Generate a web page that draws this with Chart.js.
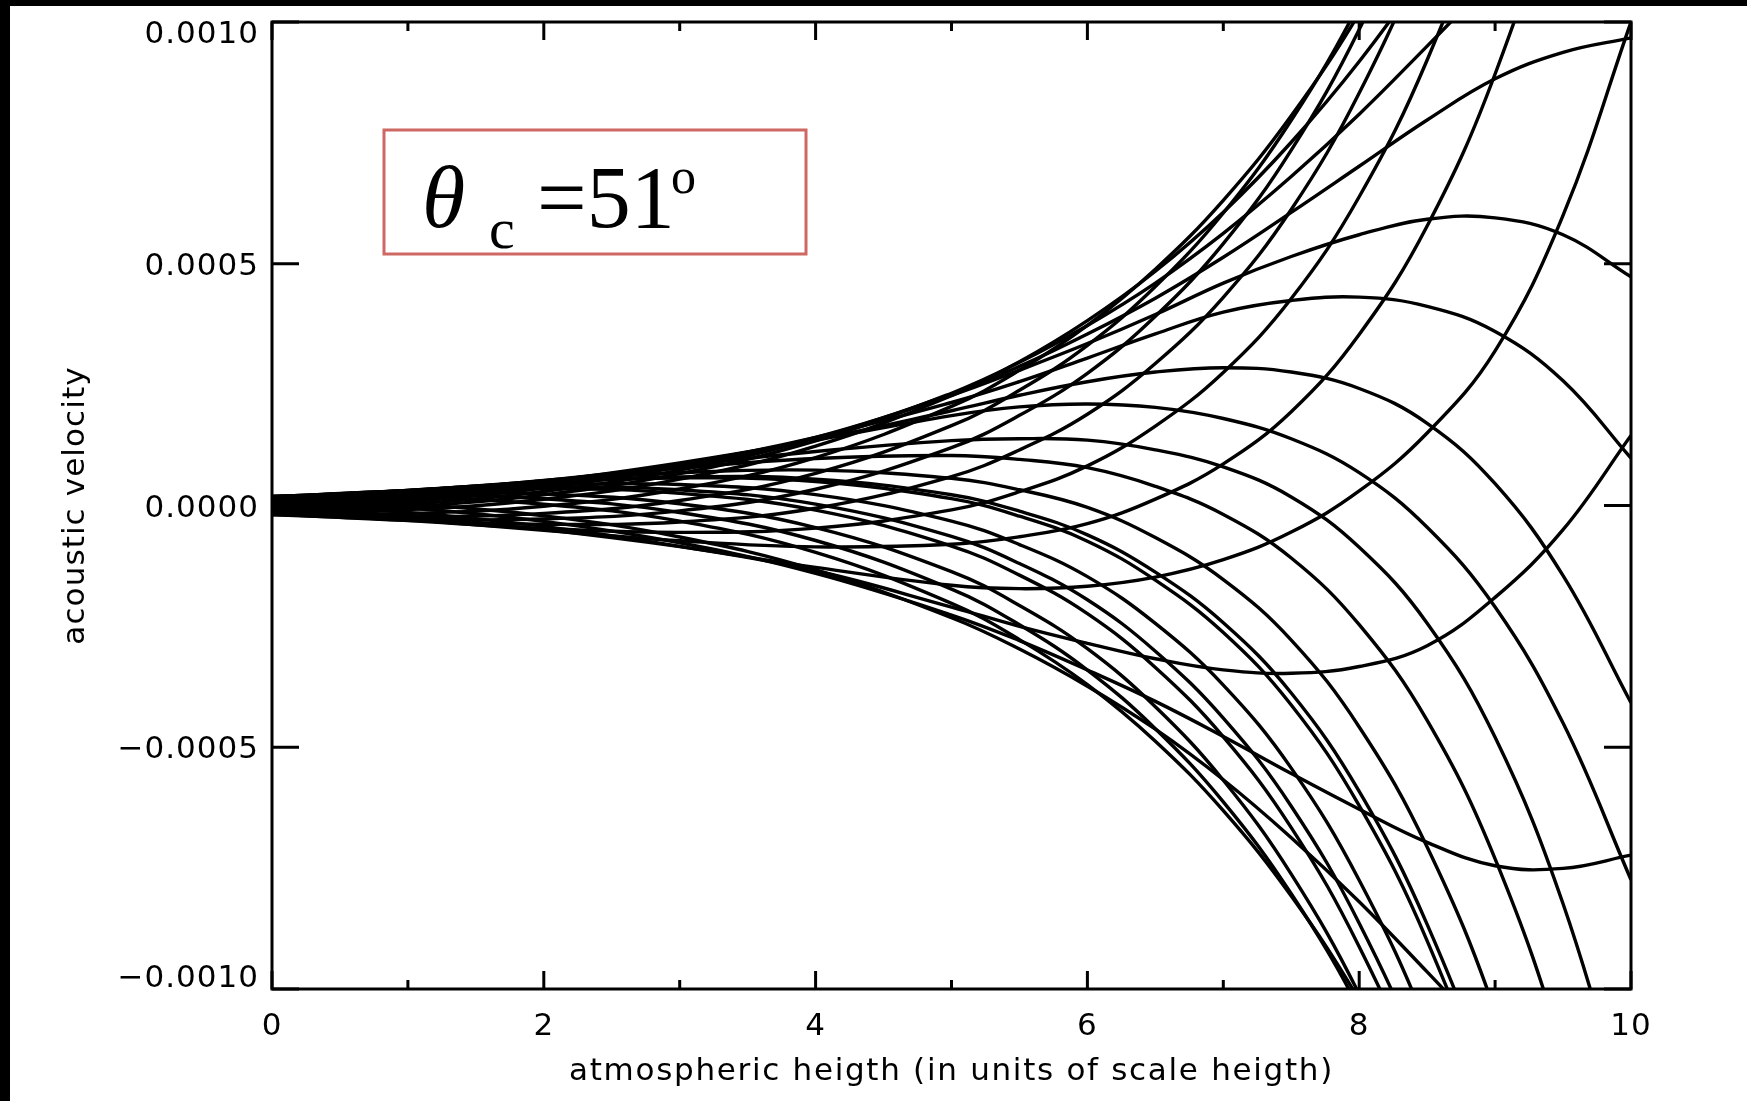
<!DOCTYPE html>
<html>
<head>
<meta charset="utf-8">
<script src="https://cdn.jsdelivr.net/npm/chart.js@4.4.1/dist/chart.umd.min.js"></script>
<style>
  html, body { margin: 0; padding: 0; background: #000; overflow: hidden; }
  #wrap { position: absolute; left: 10px; top: 6px; width: 1737px; height: 1095px; background: #fff; }
</style>
</head>
<body>
<div id="wrap"><canvas id="myChart" width="1737" height="1095"></canvas></div>
<script>
// heights where the profiles are sampled (units of scale height)
const heights = [0, 1, 2, 3, 4, 5, 5.5, 6, 6.5, 7, 7.5, 8, 8.5, 9, 9.5, 10];

// acoustic velocity snapshots, tabulated in units of 1e-3
const profile01 = [-0.0104, -0.0288, -0.0515, -0.0729, -0.0856, -0.0802, -0.0646, -0.0376, 0.0131, 0.0860, 0.1940, 0.3538, 0.5780, 0.8925, 1.3271, 1.901];
const profile02 = [-0.0148, -0.0313, -0.0473, -0.0556, -0.0468, -0.0092, 0.0285, 0.0819, 0.1643, 0.2753, 0.4280, 0.6386, 0.9214, 1.3016, 1.8056, 2.455];
const profile03 = [-0.0177, -0.0308, -0.0389, -0.0340, -0.0056, 0.0599, 0.1149, 0.1887, 0.2936, 0.4307, 0.6122, 0.8530, 1.1663, 1.5737, 2.0981, 2.761];
const profile04 = [-0.0190, -0.0279, -0.0280, -0.0110, 0.0336, 0.1195, 0.1865, 0.2735, 0.3914, 0.5415, 0.7351, 0.9846, 1.3013, 1.7016, 2.202, 2.824];
const profile05 = [-0.0188, -0.0234, -0.0163, 0.0103, 0.0664, 0.1651, 0.2383, 0.3313, 0.4528, 0.6049, 0.7967, 1.0375, 1.3361, 1.7036, 2.150, 2.694];
const profile06 = [-0.0172, -0.0164, -0.0015, 0.0341, 0.0992, 0.2049, 0.2796, 0.3724, 0.4887, 0.6313, 0.8061, 1.0179, 1.2727, 1.5737, 1.9226, 2.335];
const profile07 = [-0.0143, -0.0084, 0.0129, 0.0544, 0.1230, 0.2271, 0.2974, 0.3825, 0.4845, 0.6067, 0.7513, 0.9183, 1.1104, 1.3234, 1.5505, 1.8026];
const profile08 = [-0.0117, -0.0025, 0.0221, 0.0659, 0.1337, 0.2322, 0.2962, 0.3724, 0.4601, 0.5629, 0.6803, 0.8093, 0.9501, 1.0934, 1.2271, 1.3582];
const profile09 = [-0.0093, 0.0023, 0.0289, 0.0733, 0.1389, 0.2302, 0.2877, 0.3547, 0.4288, 0.5134, 0.6062, 0.7017, 0.7974, 0.8825, 0.9372, 0.9672];
const profile10 = [-0.0061, 0.0079, 0.0362, 0.0800, 0.1410, 0.2280, 0.2800, 0.3350, 0.3950, 0.4600, 0.5150, 0.5600, 0.5920, 0.5950, 0.5600, 0.4730];
const profile11 = [-0.0037, 0.0119, 0.0410, 0.0840, 0.1410, 0.2130, 0.2560, 0.3050, 0.3550, 0.4000, 0.4240, 0.4310, 0.4120, 0.3600, 0.2580, 0.0980];
const profile12 = [-0.0003, 0.0169, 0.0460, 0.0860, 0.1360, 0.1960, 0.2280, 0.2560, 0.2760, 0.2850, 0.2760, 0.2420, 0.1700, 0.0450, -0.1450, -0.4080];
const profile13 = [0.0023, 0.0202, 0.0490, 0.0880, 0.1350, 0.1860, 0.2040, 0.2100, 0.2030, 0.1800, 0.1380, 0.0680, -0.0450, -0.2100, -0.4500, -0.7740];
const profile14 = [0.0059, 0.0245, 0.0512, 0.0820, 0.1118, 0.1342, 0.1382, 0.1352, 0.1152, 0.0798, 0.0177, -0.0865, -0.2435, -0.4794, -0.8237, -1.2912];
const profile15 = [0.0087, 0.0273, 0.0518, 0.0773, 0.0972, 0.1033, 0.0953, 0.0782, 0.0397, -0.0184, -0.1085, -0.2465, -0.4446, -0.7308, -1.1312, -1.665];
const profile16 = [0.0121, 0.0300, 0.0506, 0.0677, 0.0731, 0.0563, 0.0326, -0.0039, -0.0663, -0.1532, -0.2783, -0.4580, -0.7062, -1.0462, -1.512, -2.119];
const profile17 = [0.0141, 0.0311, 0.0484, 0.0592, 0.0544, 0.0222, -0.0117, -0.0607, -0.1378, -0.2426, -0.3879, -0.5913, -0.8663, -1.2367, -1.7325, -2.372];
const profile18 = [0.0146, 0.0312, 0.0478, 0.0570, 0.0496, 0.0141, -0.0221, -0.0738, -0.1544, -0.2627, -0.4127, -0.6209, -0.9003, -1.2777, -1.778, -2.424];
const profile19 = [0.0167, 0.0313, 0.0428, 0.0433, 0.0226, -0.0322, -0.0808, -0.1471, -0.2439, -0.3715, -0.5432, -0.7750, -1.0785, -1.4797, -2.0014, -2.665];
const profile20 = [0.0178, 0.0307, 0.0383, 0.0325, 0.0029, -0.0640, -0.1200, -0.1949, -0.3013, -0.4398, -0.6219, -0.8640, -1.1782, -1.5861, -2.110, -2.772];
const profile21 = [0.0184, 0.0299, 0.0350, 0.0253, -0.0097, -0.0838, -0.1440, -0.2238, -0.3349, -0.4785, -0.6662, -0.9126, -1.2302, -1.6385, -2.1585, -2.811];
const profile22 = [0.0191, 0.0265, 0.0240, 0.0035, -0.0456, -0.1367, -0.2067, -0.2962, -0.4162, -0.5682, -0.7625, -1.0106, -1.323, -1.714, -2.199, -2.798];
const profile23 = [0.0187, 0.0223, 0.0139, -0.0144, -0.0724, -0.1729, -0.2467, -0.3403, -0.4616, -0.6130, -0.8031, -1.0403, -1.3332, -1.6916, -2.1239, -2.6494];
const profile24 = [0.0174, 0.0170, 0.0026, -0.0324, -0.0972, -0.2025, -0.2774, -0.3704, -0.4874, -0.6312, -0.8078, -1.0224, -1.2811, -1.588, -1.9457, -2.368];
const profile25 = [0.0119, 0.0030, -0.0214, -0.0651, -0.1331, -0.2321, -0.2967, -0.3737, -0.4627, -0.5672, -0.6871, -0.8194, -0.9646, -1.1137, -1.2559, -1.3967];
const profile26 = [0.0077, -0.0051, -0.0328, -0.0771, -0.1405, -0.2265, -0.2794, -0.3401, -0.4051, -0.4778, -0.5545, -0.6282, -0.6968, -0.7451, -0.7506, -0.7231];
const profile27 = [0.0021, -0.0142, -0.0433, -0.0846, -0.1350, -0.2100, -0.2500, -0.2850, -0.3170, -0.3400, -0.3470, -0.3330, -0.2900, -0.1900, -0.0500, 0.1450];
const profile28 = [-0.0037, -0.0220, -0.0499, -0.0850, -0.1280, -0.1650, -0.1720, -0.1670, -0.1480, -0.1120, -0.0550, 0.0300, 0.1500, 0.3200, 0.6000, 1.0000];

const profiles = [
  profile01, profile02, profile03, profile04, profile05, profile06, profile07,
  profile08, profile09, profile10, profile11, profile12, profile13, profile14,
  profile15, profile16, profile17, profile18, profile19, profile20, profile21,
  profile22, profile23, profile24, profile25, profile26, profile27, profile28
];
const UNIT = 1e-3;

const xTicksMajor = [0, 2, 4, 6, 8, 10];
const xTicksMinor = [1, 3, 5, 7, 9];
const xTickLabels = ['0', '2', '4', '6', '8', '10'];
const yTicks = [-0.001, -0.0005, 0, 0.0005, 0.001];
const yTickLabels = ['\u22120.0010', '\u22120.0005', '0.0000', '0.0005', '0.0010'];

const xTitle = 'atmospheric heigth (in units of scale heigth)';
const yTitle = 'acoustic velocity';

const datasets = profiles.map(p => ({
  data: heights.map((h, i) => ({ x: h, y: p[i] * UNIT })),
  borderColor: '#000',
  borderWidth: 3.4,
  pointRadius: 0,
  fill: false,
  tension: 0.4,
  clip: 0
}));

const axisFont = '31px "DejaVu Sans"';

// IDL-style box with inward ticks, labels and the angle annotation
const framePlugin = {
  id: 'idlFrame',
  afterDatasetsDraw(chart) {
    const ctx = chart.ctx;
    const a = chart.chartArea;
    const xs = chart.scales.x, ys = chart.scales.y;
    ctx.save();
    ctx.strokeStyle = '#000';
    ctx.lineWidth = 3;
    ctx.strokeRect(a.left, a.top, a.right - a.left, a.bottom - a.top);

    const majX = 18, minX = 9, majY = 27;
    ctx.beginPath();
    xTicksMajor.forEach(v => {
      const px = xs.getPixelForValue(v);
      ctx.moveTo(px, a.bottom); ctx.lineTo(px, a.bottom - majX);
      ctx.moveTo(px, a.top); ctx.lineTo(px, a.top + majX);
    });
    xTicksMinor.forEach(v => {
      const px = xs.getPixelForValue(v);
      ctx.moveTo(px, a.bottom); ctx.lineTo(px, a.bottom - minX);
      ctx.moveTo(px, a.top); ctx.lineTo(px, a.top + minX);
    });
    yTicks.forEach(v => {
      const py = ys.getPixelForValue(v);
      ctx.moveTo(a.left, py); ctx.lineTo(a.left + majY, py);
      ctx.moveTo(a.right, py); ctx.lineTo(a.right - majY, py);
    });
    ctx.stroke();

    ctx.fillStyle = '#000';
    ctx.font = axisFont;
    ctx.letterSpacing = '1px';
    ctx.textAlign = 'right';
    ctx.textBaseline = 'middle';
    yTicks.forEach((v, i) => {
      let py = ys.getPixelForValue(v) + 3;
      py = Math.min(Math.max(py, a.top + 13), a.bottom - 10);
      ctx.fillText(yTickLabels[i], a.left - 13, py);
    });
    ctx.textAlign = 'center';
    xTicksMajor.forEach((v, i) => {
      ctx.fillText(xTickLabels[i], xs.getPixelForValue(v), a.bottom + 38);
    });
    ctx.letterSpacing = '1.7px';
    ctx.textBaseline = 'alphabetic';
    ctx.fillText(xTitle, (a.left + a.right) / 2, a.bottom + 91);
    ctx.save();
    ctx.letterSpacing = '1.1px';
    ctx.translate(66, (a.top + a.bottom) / 2);
    ctx.rotate(-Math.PI / 2);
    ctx.textBaseline = 'middle';
    ctx.fillText(yTitle, 0, 0);
    ctx.restore();
    ctx.letterSpacing = '0px';

    // annotation box
    ctx.fillStyle = '#fff';
    ctx.fillRect(374, 124, 422, 124);
    ctx.strokeStyle = 'rgb(206,104,98)';
    ctx.lineWidth = 3;
    ctx.strokeRect(374, 124, 422, 124);
    ctx.fillStyle = '#000';
    ctx.textAlign = 'left';
    ctx.textBaseline = 'alphabetic';
    ctx.font = 'italic 88px "Liberation Serif"';
    ctx.fillText('\u03b8', 412, 221);
    ctx.font = '58px "Liberation Serif"';
    ctx.fillText('c', 479, 242);
    ctx.font = '88px "Liberation Serif"';
    ctx.fillText('=51', 527, 221);
    ctx.font = '50px "Liberation Serif"';
    ctx.fillText('o', 661, 187);
    ctx.restore();
  }
};

new Chart(document.getElementById('myChart'), {
  type: 'line',
  data: { datasets },
  plugins: [framePlugin],
  options: {
    responsive: false,
    animation: false,
    events: [],
    layout: { padding: { left: 262, right: 116, top: 16, bottom: 112 } },
    elements: { line: { capBezierPoints: false } },
    scales: {
      x: { type: 'linear', min: 0, max: 10, display: false },
      y: { type: 'linear', min: -0.001, max: 0.001, display: false }
    },
    plugins: { legend: { display: false }, tooltip: { enabled: false } }
  }
});
</script>
</body>
</html>
